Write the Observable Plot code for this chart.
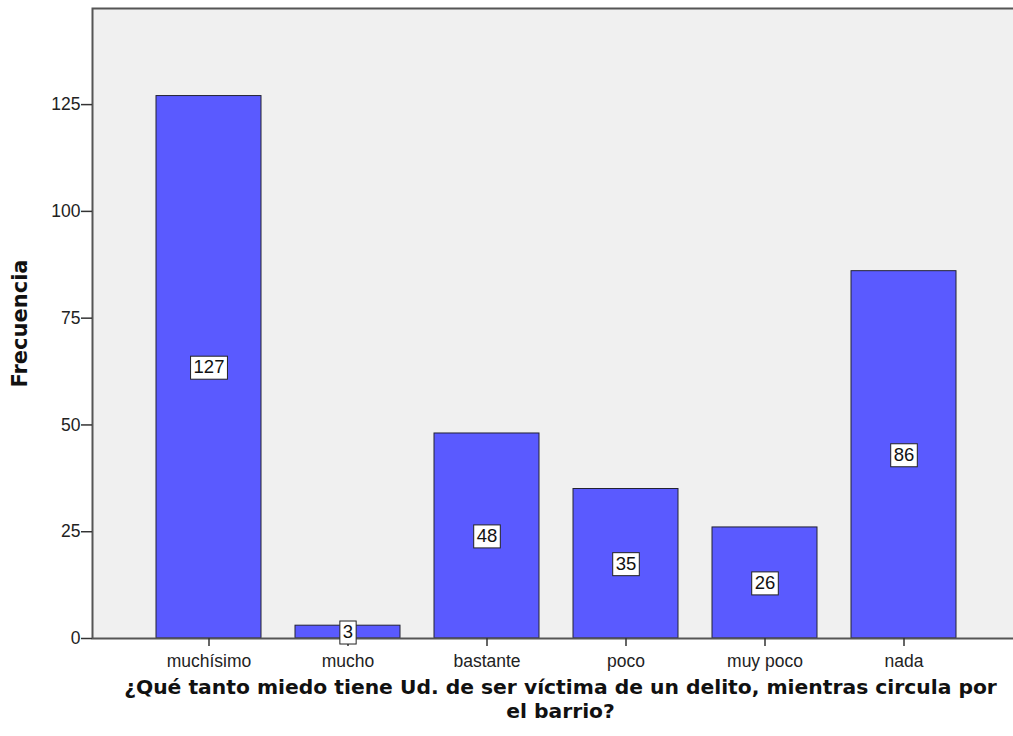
<!DOCTYPE html>
<html>
<head>
<meta charset="utf-8">
<script src="https://cdn.jsdelivr.net/npm/d3@7"></script>
<script src="https://cdn.jsdelivr.net/npm/@observablehq/plot@0.6"></script>
<style>
  html, body { margin: 0; padding: 0; background: white; }
</style>
</head>
<body>
<div id="chart"></div>
<script>
const categories = ["muchísimo", "mucho", "bastante", "poco", "muy poco", "nada"];
const counts = [127, 3, 48, 35, 26, 86];
const yTicks = [0, 25, 50, 75, 100, 125];
const yLabel = "Frecuencia";
const xLabel = "¿Qué tanto miedo tiene Ud. de ser víctima de un delito, mientras circula por\nel barrio?";

const data = categories.map((c, i) => ({cat: c, n: counts[i]}));

const plot = Plot.plot({
  width: 1013,
  height: 736,
  marginLeft: 92,
  marginRight: -3,
  marginTop: 8,
  marginBottom: 98,
  style: {background: "white", fontFamily: "'Liberation Sans', Arial, sans-serif", fontSize: "17.5px", color: "#222"},
  x: {domain: categories, range: [138.4, 973.6], paddingInner: 0.245, paddingOuter: 0.1225, label: null},
  y: {domain: [0, 147.5], label: null},
  marks: [
    Plot.frame({fill: "#f0f0f0", stroke: "none"}),
    Plot.barY(data, {x: "cat", y: "n", fill: "#5a5aff", stroke: "#222233", strokeWidth: 1}),
    Plot.frame({stroke: "#555", strokeWidth: 2}),
    Plot.axisY({ticks: yTicks, tickSize: 11, tickPadding: 1, fontSize: 17.5, stroke: "#333", strokeWidth: 1.5, label: null}),
    Plot.axisX({tickSize: 8, tickPadding: 8, fontSize: 17.5, stroke: "#333", strokeWidth: 1.5, label: null}),
    Plot.text(data, {x: "cat", y: d => d.n / 2, text: d => String(d.n), fontSize: 18.5, fill: "#111"}),
    Plot.text([yLabel], {frameAnchor: "left", dx: -72, rotate: -90, textAnchor: "middle", fontWeight: "bold", fontSize: 21, fontFamily: "'DejaVu Sans', sans-serif", fill: "#111"}),
    Plot.text([xLabel], {frameAnchor: "bottom", dx: 6, dy: 39, lineAnchor: "top", lineHeight: 1.17, fontWeight: "bold", fontSize: 20.3, fontFamily: "'DejaVu Sans', sans-serif", fill: "#111"})
  ]
});

document.getElementById("chart").appendChild(plot);

// draw white boxes behind value labels
const valueLabels = Array.from(plot.querySelectorAll('g[aria-label="text"]'))[0];
if (valueLabels) {
  valueLabels.querySelectorAll("text").forEach(t => {
    const b = t.getBBox();
    const r = document.createElementNS("http://www.w3.org/2000/svg", "rect");
    r.setAttribute("x", b.x - 3);
    r.setAttribute("y", b.y);
    r.setAttribute("width", b.width + 6);
    r.setAttribute("height", b.height + 2);
    r.setAttribute("fill", "white");
    r.setAttribute("stroke", "#222");
    r.setAttribute("stroke-width", 1);
    const tr = t.getAttribute("transform");
    if (tr) r.setAttribute("transform", tr);
    t.parentNode.insertBefore(r, t);
  });
}
</script>
</body>
</html>
